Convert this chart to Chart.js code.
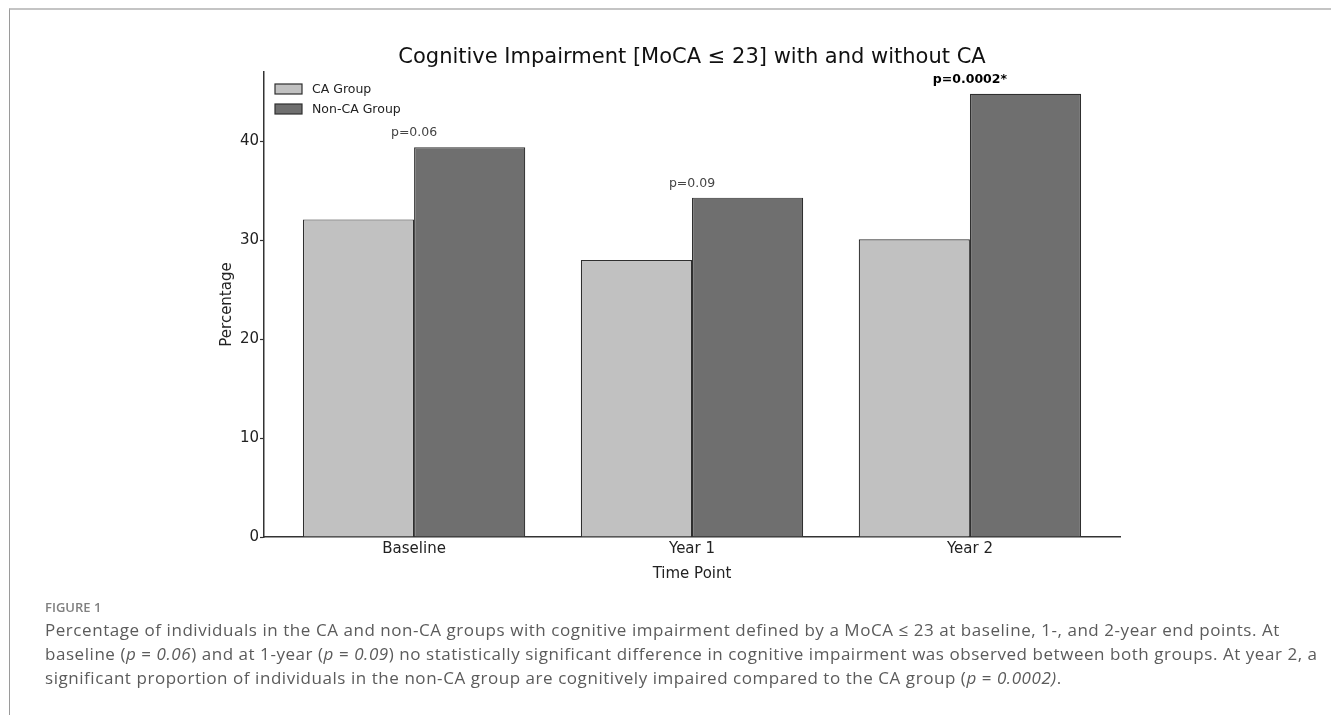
<!DOCTYPE html>
<html>
<head>
<meta charset="utf-8">
<script src="https://cdn.jsdelivr.net/npm/chart.js@4/dist/chart.umd.min.js"></script>
<style>
  html, body { margin: 0; padding: 0; background: #fff; }
  body { width: 1331px; height: 715px; position: relative; overflow: hidden; }
  #frame { position: absolute; left: 9px; top: 8px; right: 0; bottom: 0;
           border-top: 2px solid #c4c4c4; border-left: 1px solid #9a9a9a; }
  #wrap { position: absolute; left: 0; top: 0; width: 1331px; height: 600px; }
  #cap { position: absolute; left: 45px; top: 596px; width: 1285px;
         font-family: "Open Sans", sans-serif; color: #5b5b5b; }
  #cap .fig { font-size: 13px; font-weight: 600; color: #808080; line-height: 22px; }
  #cap p { margin: 0; font-size: 17px; letter-spacing: 0.55px; line-height: 24px; white-space: nowrap; }
</style>
</head>
<body>
<div id="frame"></div>
<div id="wrap"><canvas id="c"></canvas></div>
<div id="cap">
  <div class="fig">FIGURE 1</div>
  <p>Percentage of individuals in the CA and non-CA groups with cognitive impairment defined by a MoCA ≤ 23 at baseline, 1-, and 2-year end points. At<br>baseline (<i>p</i> = <i>0.06</i>) and at 1-year (<i>p</i> = <i>0.09</i>) no statistically significant difference in cognitive impairment was observed between both groups. At year 2, a<br>significant proportion of individuals in the non-CA group are cognitively impaired compared to the CA group (<i>p</i> = <i>0.0002)</i>.</p>
</div>
<script>
// data
const timePoints = ['Baseline', 'Year 1', 'Year 2'];
const caGroup = [32.1, 28.0, 30.1];
const nonCaGroup = [39.4, 34.3, 44.8];
const pLabels = ['p=0.06', 'p=0.09', 'p=0.0002*'];
const pSignificant = [false, false, true];
const yTicks = [0, 10, 20, 30, 40];

const FONT = 'DejaVu Sans';

// legend drawn inside the axes, top left (like matplotlib)
const innerLegend = {
  id: 'innerLegend',
  afterDatasetsDraw(chart) {
    const ctx = chart.ctx;
    const area = chart.chartArea;
    ctx.save();
    ctx.font = '12.5px "' + FONT + '"';
    ctx.textBaseline = 'middle';
    chart.data.datasets.forEach((ds, i) => {
      const y = 89 + i * 20;
      ctx.fillStyle = ds.backgroundColor;
      ctx.strokeStyle = ds.borderColor;
      ctx.lineWidth = 1.2;
      ctx.fillRect(area.left + 11, y - 5, 27, 10);
      ctx.strokeRect(area.left + 11, y - 5, 27, 10);
      ctx.fillStyle = '#222';
      ctx.fillText(ds.label, area.left + 48, y + 1);
    });
    ctx.restore();
  }
};

// p-value annotations above each pair of bars
const pValues = {
  id: 'pValues',
  afterDatasetsDraw(chart) {
    const ctx = chart.ctx;
    const xs = chart.scales.x, ys = chart.scales.y;
    ctx.save();
    ctx.textAlign = 'center';
    ctx.textBaseline = 'middle';
    pLabels.forEach((lbl, i) => {
      const top = Math.max(caGroup[i], nonCaGroup[i]);
      ctx.font = (pSignificant[i] ? 'bold ' : '') + '12.5px "' + FONT + '"';
      ctx.fillStyle = pSignificant[i] ? '#000' : '#444';
      ctx.fillText(lbl, xs.getPixelForValue(i), ys.getPixelForValue(top) - 14);
    });
    ctx.restore();
  }
};

new Chart(document.getElementById('c'), {
  type: 'bar',
  data: {
    datasets: [
      {
        label: 'CA Group',
        data: caGroup.map((v, i) => ({ x: i, y: v })),
        backgroundColor: '#c1c1c1',
        borderColor: '#2f2f2f',
        borderWidth: 1.2
      },
      {
        label: 'Non-CA Group',
        data: nonCaGroup.map((v, i) => ({ x: i, y: v })),
        backgroundColor: '#6f6f6f',
        borderColor: '#2f2f2f',
        borderWidth: 1.2
      }
    ]
  },
  options: {
    responsive: true,
    maintainAspectRatio: false,
    animation: false,
    devicePixelRatio: 1,
    categoryPercentage: 0.8,
    barPercentage: 1.0,
    layout: { padding: { left: 218, right: 211, top: 0, bottom: 0 } },
    plugins: {
      legend: { display: false },
      tooltip: { enabled: false },
      title: {
        display: true,
        fullSize: false,
        text: 'Cognitive Impairment [MoCA ≤ 23] with and without CA',
        color: '#111',
        font: { family: FONT, size: 21, weight: 'normal' },
        padding: { top: 45, bottom: 1.8 }
      }
    },
    scales: {
      x: {
        type: 'linear',
        offset: false,
        min: -0.54,
        max: 2.54,
        afterFit(s) { s.height = 63; },
        afterBuildTicks(s) { s.ticks = timePoints.map((t, i) => ({ value: i })); },
        ticks: {
          color: '#222',
          font: { family: FONT, size: 15 },
          padding: 3,
          maxRotation: 0,
          autoSkip: false,
          callback: (v) => timePoints[v]
        },
        grid: { display: false, drawTicks: false },
        border: { display: true, color: '#333', width: 1.5 },
        title: {
          display: true,
          text: 'Time Point',
          color: '#222',
          font: { family: FONT, size: 15 },
          padding: { top: 0, bottom: 17 }
        }
      },
      y: {
        min: 0,
        max: 47.0,
        afterFit(s) { s.width = 46; },
        afterBuildTicks(s) { s.ticks = yTicks.map(v => ({ value: v })); },
        ticks: {
          color: '#222',
          font: { family: FONT, size: 15 },
          padding: 1
        },
        grid: {
          display: true,
          drawOnChartArea: false,
          drawTicks: true,
          tickLength: 4,
          tickWidth: 1.2,
          tickColor: '#333'
        },
        border: { display: true, color: '#333', width: 1.5 },
        title: {
          display: true,
          text: 'Percentage',
          color: '#222',
          font: { family: FONT, size: 15 },
          padding: 0
        }
      }
    }
  },
  plugins: [innerLegend, pValues]
});
</script>
</body>
</html>
